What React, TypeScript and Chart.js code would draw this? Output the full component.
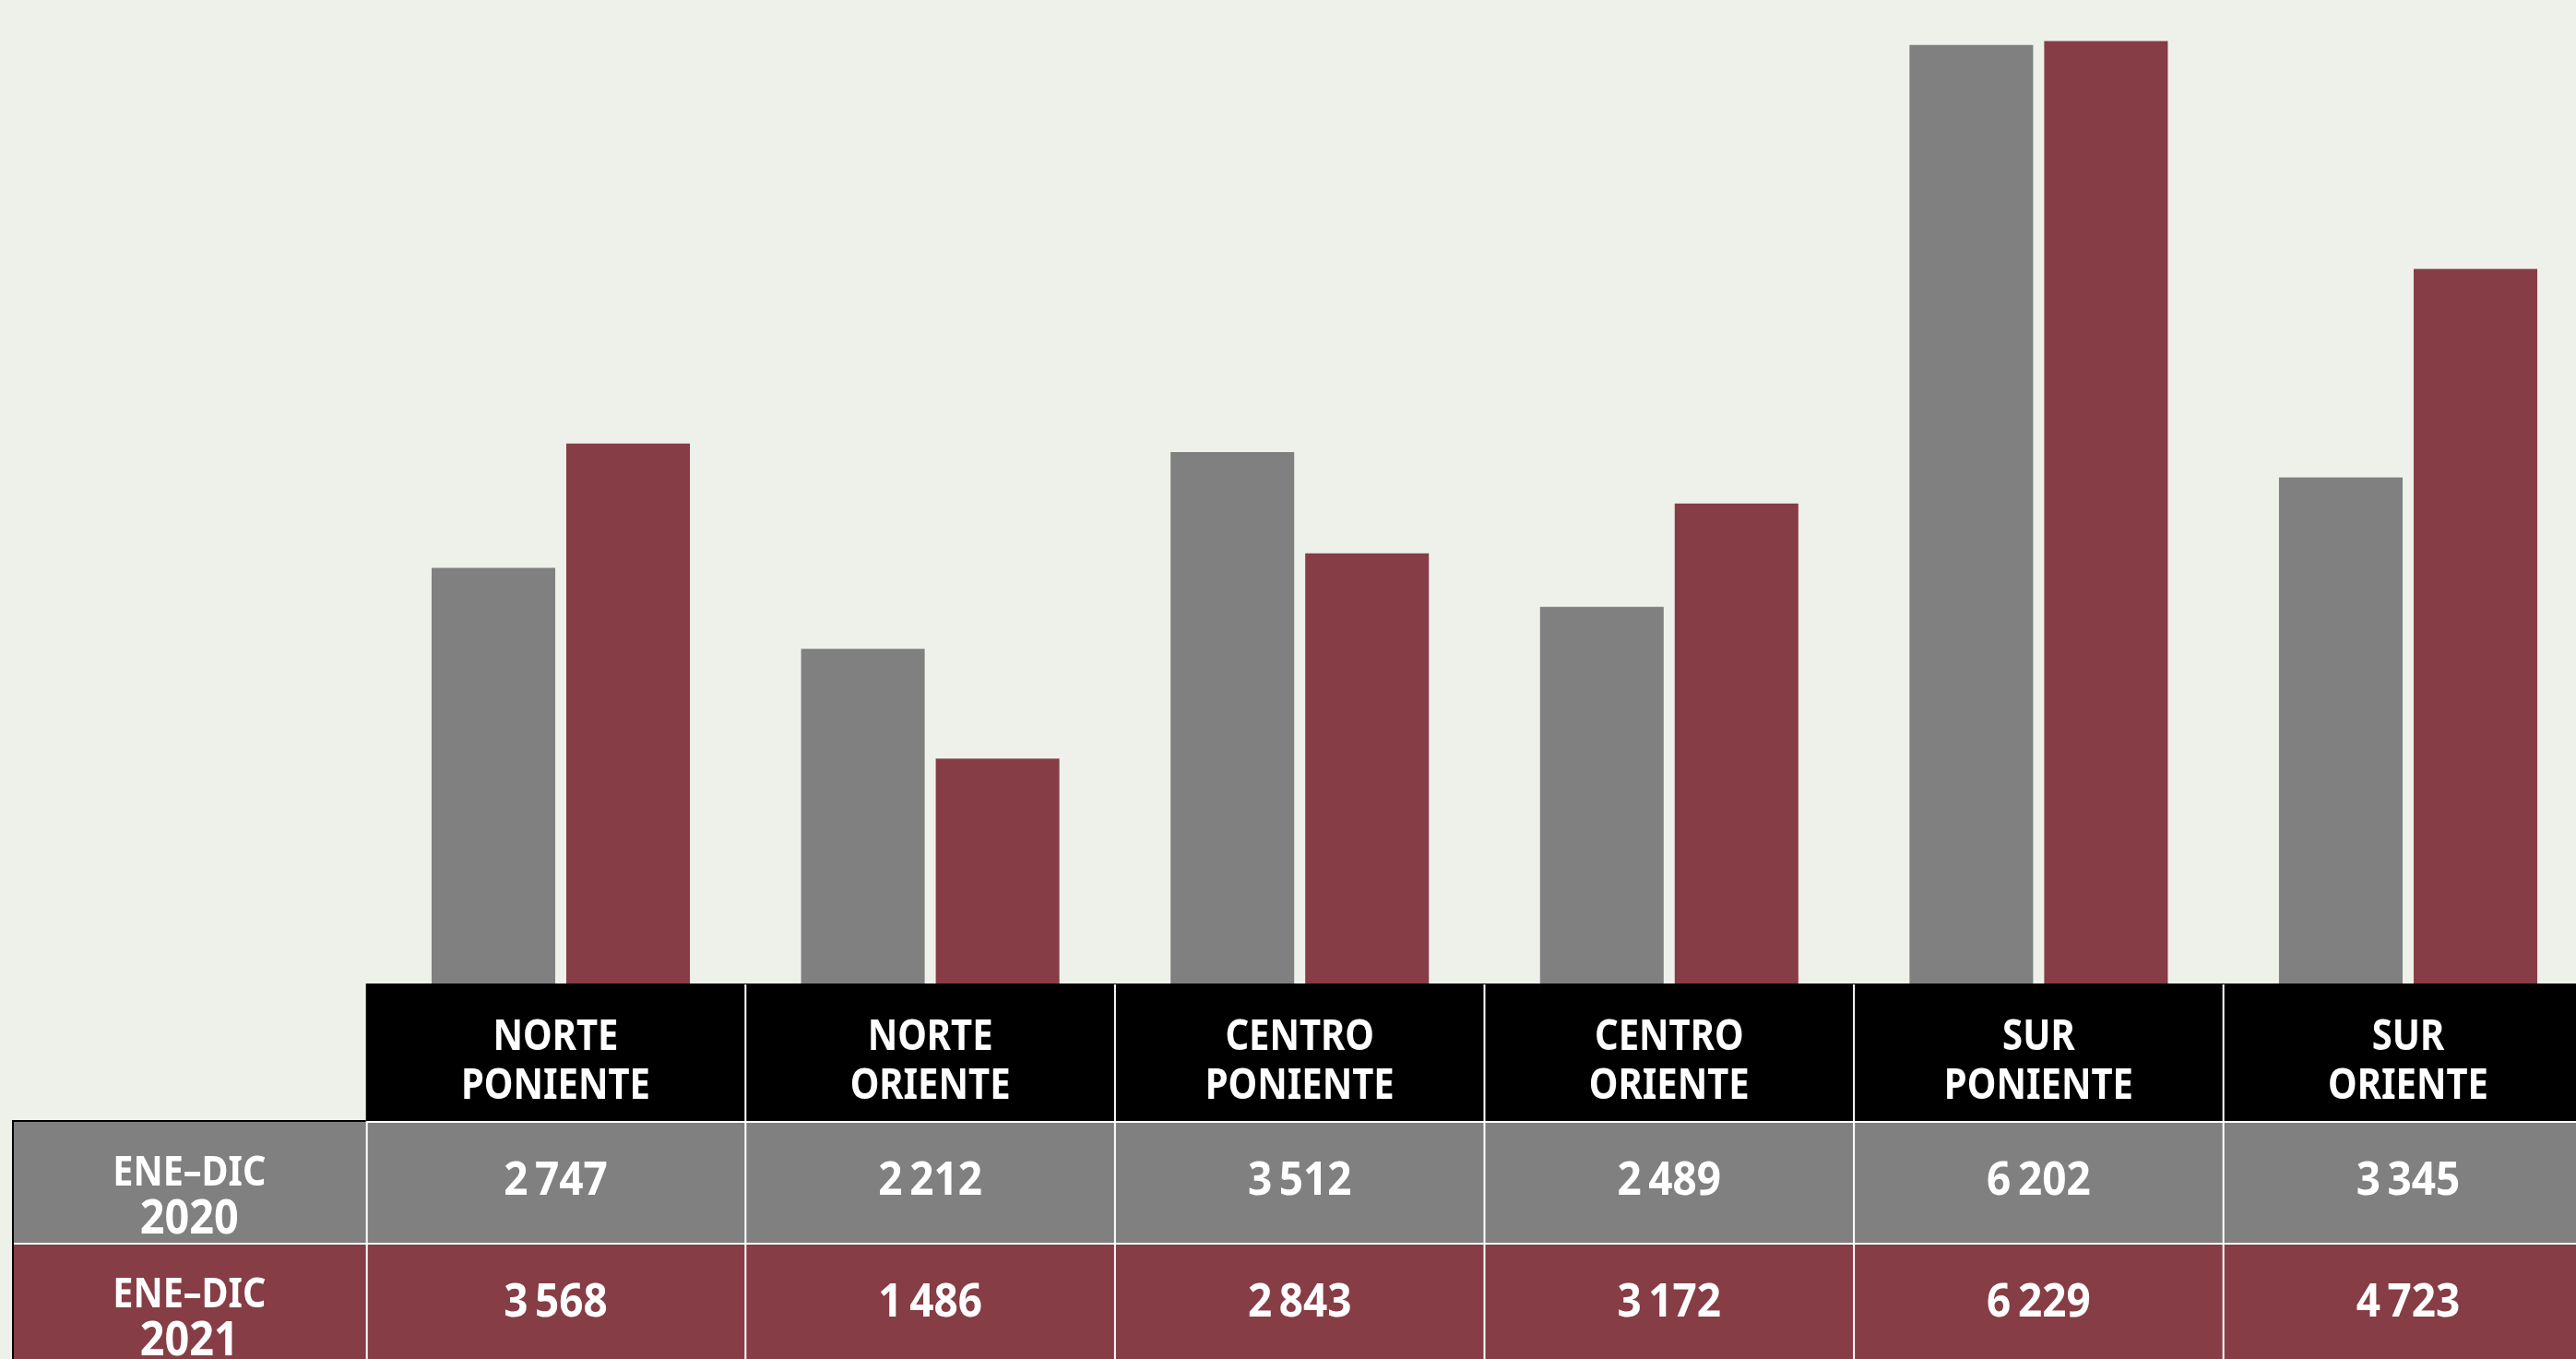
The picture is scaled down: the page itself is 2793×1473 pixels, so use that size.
import React, { useEffect, useRef } from "react";
import { Chart, registerables } from "chart.js";

Chart.register(...registerables);

// ---------- data ----------
const categories: string[][] = [
  ["NORTE", "PONIENTE"],
  ["NORTE", "ORIENTE"],
  ["CENTRO", "PONIENTE"],
  ["CENTRO", "ORIENTE"],
  ["SUR", "PONIENTE"],
  ["SUR", "ORIENTE"],
];
const seriesLabels: string[][] = [
  ["ENE–DIC", "2020"],
  ["ENE–DIC", "2021"],
];
const values2020: number[] = [2747, 2212, 3512, 2489, 6202, 3345];
const values2021: number[] = [3568, 1486, 2843, 3172, 6229, 4723];
const yMax = 6500;

// ---------- style ----------
const BG = "#eef1ea";
const GRAY = "#808080";
const RED = "#863d45";
const CANVAS_W = 2830;
const CANVAS_H = 1490;
const FONT = "'Noto Sans', 'Open Sans', sans-serif";

function fmt(v: number): string {
  const th = Math.floor(v / 1000);
  const rest = String(v % 1000).padStart(3, "0");
  return th > 0 ? `${th}\u202F${rest}` : String(v);
}

function fillSqueezed(
  ctx: CanvasRenderingContext2D,
  text: string,
  cx: number,
  y: number,
  size: number,
  squeeze: number
) {
  ctx.font = `bold ${size}px ${FONT}`;
  const w = ctx.measureText(text).width;
  ctx.fillText(text, cx, y, w * squeeze);
}

const tablePlugin = {
  id: "dataTable",
  afterDraw(chart: any) {
    const ctx: CanvasRenderingContext2D = chart.ctx;
    const xs = chart.scales.x;
    const area = chart.chartArea;
    const n = categories.length;
    const c0 = xs.getPixelForValue(0);
    const c1 = xs.getPixelForValue(1);
    const catW = c1 - c0;
    const edges: number[] = [];
    for (let i = 0; i < n; i++) edges.push(xs.getPixelForValue(i) - catW / 2);
    edges.push(xs.getPixelForValue(n - 1) + catW / 2);
    edges[0] = area.left - 11;

    const right = chart.width;
    const headTop = area.bottom;
    const headH = 149;
    const rowH = 132;
    const line = 2;
    const labelLeft = 14;
    const row1Top = headTop + headH + line;
    const row2Top = row1Top + rowH - line + line;
    const rowTops = [row1Top, row1Top + rowH];
    const colors = [GRAY, RED];

    ctx.save();
    // header
    ctx.fillStyle = "#000";
    ctx.fillRect(edges[0], headTop, right - edges[0], headH);
    // rows
    ctx.fillStyle = GRAY;
    ctx.fillRect(labelLeft, headTop + headH, right - labelLeft, rowH + line);
    ctx.fillStyle = RED;
    ctx.fillRect(labelLeft, rowTops[1], right - labelLeft, CANVAS_H - rowTops[1]);

    // white grid lines
    ctx.fillStyle = "#ffffff";
    ctx.fillRect(edges[0], headTop + headH, right - edges[0], line);
    ctx.fillRect(labelLeft, rowTops[1] - line, right - labelLeft, line);
    ctx.fillRect(edges[0], headTop + headH, line, CANVAS_H - headTop - headH);
    for (let i = 1; i < n; i++) {
      ctx.fillRect(edges[i] - line / 2, headTop + 1, line, CANVAS_H - headTop);
    }
    // black border of label column
    ctx.fillStyle = "#000";
    ctx.fillRect(labelLeft - 1, headTop + headH - 1, edges[0] - labelLeft + 1, line);
    ctx.fillRect(labelLeft - 1, headTop + headH - 1, line, CANVAS_H - headTop - headH);

    // header text
    ctx.fillStyle = "#fff";
    ctx.textAlign = "center";
    ctx.textBaseline = "alphabetic";
    for (let i = 0; i < n; i++) {
      const cx = (edges[i] + edges[i + 1]) / 2;
      const lines = categories[i];
      fillSqueezed(ctx, lines[0], cx, headTop + 72, 46, 0.87);
      fillSqueezed(ctx, lines[1], cx, headTop + 125, 46, 0.87);
    }

    // values
    const series = [values2020, values2021];
    for (let r = 0; r < series.length; r++) {
      const top = rowTops[r];
      for (let i = 0; i < n; i++) {
        const cx = (edges[i] + edges[i + 1]) / 2;
        fillSqueezed(ctx, fmt(series[r][i]), cx, top + 78, 51, 0.9);
      }
      const lx = (labelLeft + edges[0]) / 2;
      fillSqueezed(ctx, seriesLabels[r][0], lx, top + 68, 45, 0.88);
      fillSqueezed(ctx, seriesLabels[r][1], lx, top + 120, 52, 0.9);
    }
    ctx.restore();
  },
};

export default function App() {
  const ref = useRef<HTMLCanvasElement | null>(null);

  useEffect(() => {
    if (!ref.current) return;
    const chartLeft = 407.7;
    const chartRight = 2811.3;
    const chartBottom = 1066;
    const chart = new Chart(ref.current, {
      type: "bar",
      data: {
        labels: categories.map((c) => c.join(" ")),
        datasets: [
          {
            label: seriesLabels[0].join(" "),
            data: values2020,
            backgroundColor: GRAY,
            borderWidth: 0,
            categoryPercentage: 0.729,
            barPercentage: 0.918,
          },
          {
            label: seriesLabels[1].join(" "),
            data: values2021,
            backgroundColor: RED,
            borderWidth: 0,
            categoryPercentage: 0.729,
            barPercentage: 0.918,
          },
        ],
      },
      options: {
        animation: false,
        responsive: false,
        maintainAspectRatio: false,
        devicePixelRatio: 1,
        layout: {
          padding: {
            left: chartLeft,
            right: CANVAS_W - chartRight,
            top: 0,
            bottom: CANVAS_H - chartBottom,
          },
        },
        plugins: {
          legend: { display: false },
          tooltip: { enabled: false },
        },
        scales: {
          x: { display: false, grid: { display: false } },
          y: { display: false, min: 0, max: yMax, grid: { display: false } },
        },
      },
      plugins: [tablePlugin],
    });
    return () => chart.destroy();
  }, []);

  return (
    <div
      style={{
        position: "fixed",
        left: 0,
        top: 0,
        width: "100vw",
        height: "100vh",
        overflow: "hidden",
        background: BG,
      }}
    >
      <canvas
        ref={ref}
        width={CANVAS_W}
        height={CANVAS_H}
        style={{ position: "absolute", left: 0, top: 0, width: CANVAS_W, height: CANVAS_H }}
      />
    </div>
  );
}
